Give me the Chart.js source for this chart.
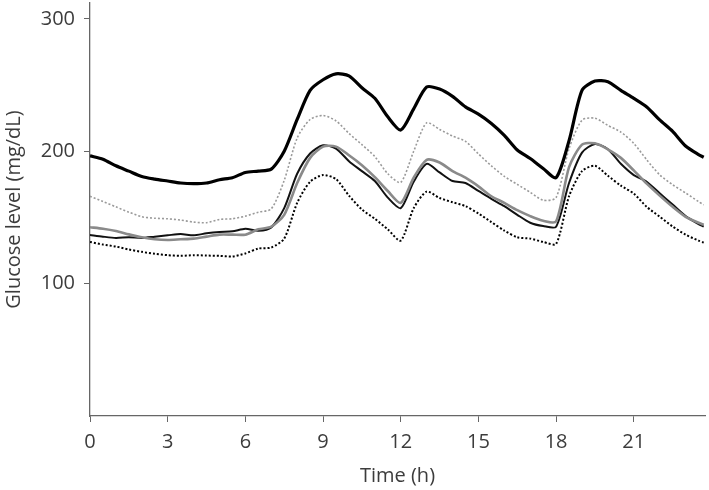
<!DOCTYPE html>
<html>
<head>
<meta charset="utf-8">
<script src="https://cdn.jsdelivr.net/npm/chart.js@4/dist/chart.umd.min.js"></script>
<style>
  html, body { margin: 0; padding: 0; background: #fff; }
  canvas { display: block; }
</style>
</head>
<body>
<canvas id="c" width="709" height="490"></canvas>
<script>
// Time grid (hours)
const hours = [0,0.5,1,1.5,2,2.5,3,3.5,4,4.5,5,5.5,6,6.5,7,7.5,8,8.5,9,9.5,10,10.5,11,11.5,12,12.5,13,13.5,14,14.5,15,15.5,16,16.5,17,17.5,18,18.5,19,19.5,20,20.5,21,21.5,22,22.5,23,23.5,23.7];

// Series values (mg/dL)
const thickBlack = [196.5,194,189,185,181,179,177.5,176,175.5,176,178.5,180,184,185,186.5,200,224,246,254,258.5,257,248,240,226,216,232,248.5,247,241.5,233.5,228,221,212,201,194.5,187,180,208,246,253,252.5,246,240,233.5,223.7,215,204,197.5,195.5];
const grayDotted = [166,162,158,154,150.5,149.4,149,148,146.5,146,148.5,149,151,154,156.5,178,210,224,227,223,213.5,205,196,183,176.5,200,221.5,216.5,211.5,207.5,198,189,181,175,169,163,165,202,223.5,225,219.5,214.5,206,193.5,182.2,174.7,168.5,162,159.5];
const graySolid = [142.6,141.5,139.8,137.2,135,133.5,133,133.5,134,135.5,137,137,137,141,143,152,176,195,203.5,203.5,197,189.5,180.5,170,161,180,193.5,191.5,185,180,173.5,166,161,155.5,151,147.5,147,188,205,206,201.5,195,185.5,175.5,166.5,158,150.5,146,144.4];
const blackThin = [136.8,135.5,134.5,135,134.5,135.5,136.5,137.5,136.5,138,139,139.5,141.5,140,142.5,157,183,198.3,204.5,202,192.5,185,177.5,165,157,177,190.5,184,177.5,176,170,164,158.5,152,146,143.5,143,176,199,205.5,201.5,190.5,182,177,168.3,159.7,151,145,143.1];
const blackDotted = [131.5,129.5,128,125.8,124,122.5,121.5,121,121.5,121.2,121,120.5,122.8,126.5,127.3,134,161,177,182,179,166.5,156,149,141,132.5,157,169.5,164.7,161.5,158.5,153,146.5,140,135,134,131.5,130,166,185,189,181.5,174,168,158,150.6,143.2,137,132.5,131];

// Tick labels
const xTicks = [0,3,6,9,12,15,18,21];
const yTicks = [100,200,300];

const pts = arr => arr.map((v, i) => ({ x: hours[i], y: v }));

const FONT = "'Open Sans', 'Noto Sans', sans-serif";
const TXT = '#3c3c3c';
const AX = '#666';

new Chart(document.getElementById('c'), {
  type: 'line',
  data: {
    datasets: [
      { data: pts(thickBlack), borderColor: '#000', borderWidth: 3.2 },
      { data: pts(grayDotted), borderColor: '#9a9a9a', borderWidth: 1.6, borderDash: [2, 2] },
      { data: pts(blackDotted), borderColor: '#000', borderWidth: 2, borderDash: [2, 2] },
      { data: pts(graySolid), borderColor: '#8a8a8a', borderWidth: 2.6 },
      { data: pts(blackThin), borderColor: '#111', borderWidth: 2 }
    ].map(d => Object.assign({ pointRadius: 0, tension: 0.25, fill: false }, d))
  },
  options: {
    responsive: false,
    animation: false,
    devicePixelRatio: 1,
    layout: { padding: { top: 3, right: 4, left: 0, bottom: 0 } },
    plugins: { legend: { display: false }, tooltip: { enabled: false } },
    scales: {
      x: {
        type: 'linear',
        min: 0,
        max: 23.75,
        afterBuildTicks: s => { s.ticks = xTicks.map(v => ({ value: v })); },
        afterFit: s => { s.height = 74; s.paddingLeft = 0; s.paddingRight = 0; },
        grid: { display: true, drawOnChartArea: false, drawTicks: true, tickLength: 6, color: AX, lineWidth: 1 },
        border: { display: true, color: AX, width: 1.3 },
        ticks: { font: { family: FONT, size: 20 }, color: TXT, padding: 8, maxRotation: 0 },
        title: { display: true, text: 'Time (h)', font: { family: FONT, size: 20 }, color: TXT, padding: { top: 2, bottom: 2 } }
      },
      y: {
        min: 0,
        max: 312,
        afterBuildTicks: s => { s.ticks = yTicks.map(v => ({ value: v })); },
        afterFit: s => { s.width = 90; s.paddingTop = 0; s.paddingBottom = 0; },
        grid: { display: true, drawOnChartArea: false, drawTicks: true, tickLength: 6, color: AX, lineWidth: 1 },
        border: { display: true, color: AX, width: 1.3 },
        ticks: { font: { family: FONT, size: 20 }, color: TXT, padding: 9 },
        title: { display: true, text: 'Glucose level (mg/dL)', font: { family: FONT, size: 20 }, color: TXT, padding: { top: 2, bottom: 0 } }
      }
    }
  }
});
</script>
</body>
</html>
